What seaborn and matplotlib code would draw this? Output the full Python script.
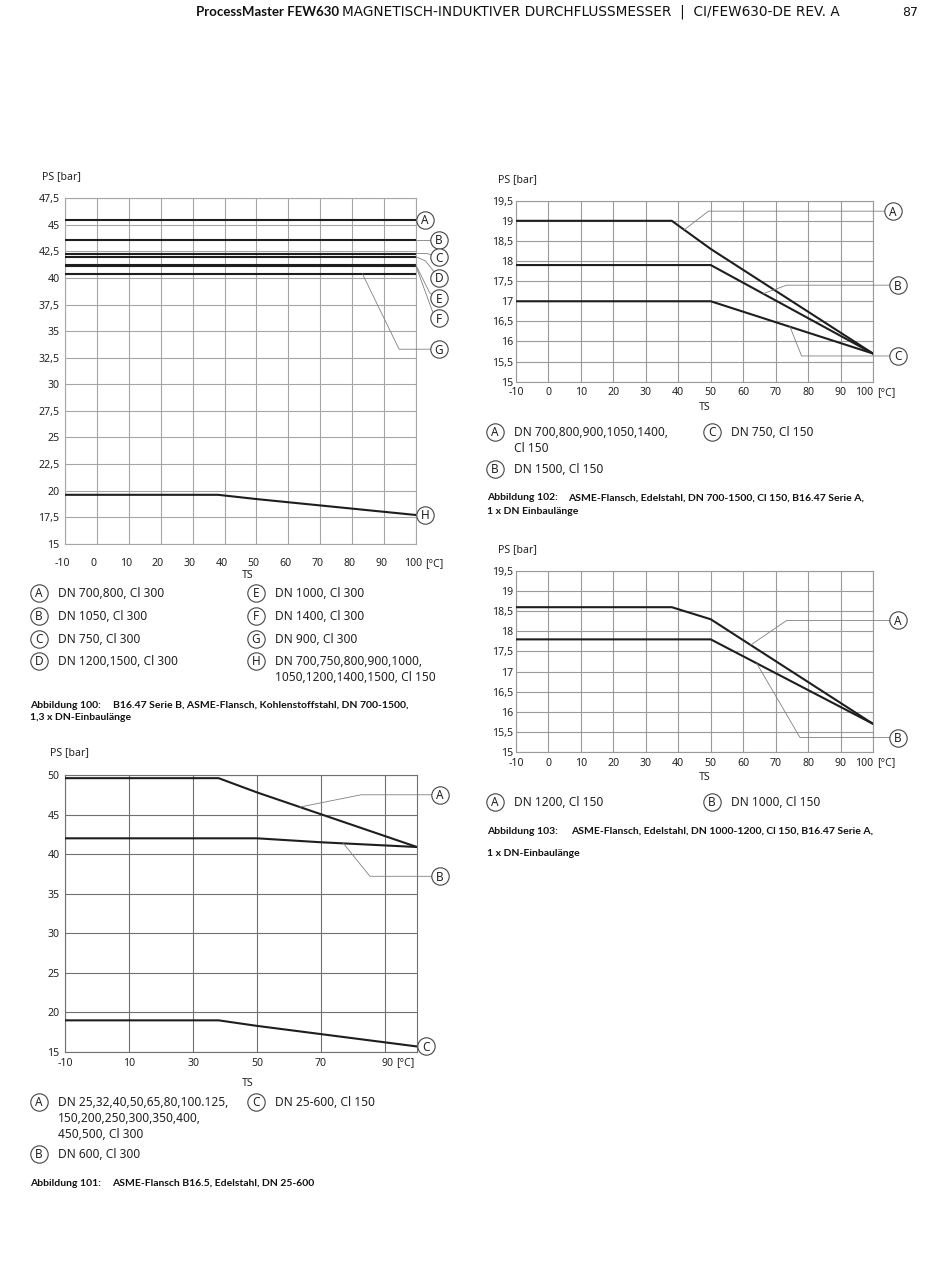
import numpy as np
import pandas as pd
import matplotlib.pyplot as plt
import matplotlib.transforms as mtrans
import seaborn as sns

W, H = 950, 1275
LINE = "#1e1e1e"
TXT = "#222222"
LEAD = "#808080"

# ---- Abbildung 100 (Kohlenstoffstahl, B16.47 Serie B)
ts_flat_100 = [-10, 100]
tags_flat_100 = ["A", "B", "C", "D", "E", "F", "G"]
ps_flat_100 = [45.5, 43.6, 42.3, 42.0, 41.2, 41.1, 40.4]
ts_h_100 = [-10, 38, 50, 100]
ps_h_100 = [19.6, 19.6, 19.2, 17.7]

# ---- Abbildung 101 (B16.5, Edelstahl)
ts_a_101 = [-10, 38, 50, 100]
ps_a_101 = [49.6, 49.6, 47.8, 40.9]
ts_b_101 = [-10, 50, 70, 100]
ps_b_101 = [42.0, 42.0, 41.5, 40.9]
ts_c_101 = [-10, 38, 50, 100]
ps_c_101 = [19.0, 19.0, 18.3, 15.7]

# ---- Abbildung 102 (Edelstahl, DN 700-1500)
ts_a_102 = [-10, 38, 50, 100]
ps_a_102 = [19.0, 19.0, 18.3, 15.7]
ts_b_102 = [-10, 50, 100]
ps_b_102 = [17.9, 17.9, 15.7]
ts_c_102 = [-10, 50, 100]
ps_c_102 = [17.0, 17.0, 15.7]

# ---- Abbildung 103 (Edelstahl, DN 1000-1200)
ts_a_103 = [-10, 38, 50, 100]
ps_a_103 = [18.6, 18.6, 18.3, 15.7]
ts_b_103 = [-10, 50, 100]
ps_b_103 = [17.8, 17.8, 15.7]

# ticks
xticks_full = [-10, 0, 10, 20, 30, 40, 50, 60, 70, 80, 90, 100]
xticks_101 = [-10, 10, 30, 50, 70, 90]
yticks_100 = [15, 17.5, 20, 22.5, 25, 27.5, 30, 32.5, 35, 37.5, 40, 42.5, 45, 47.5]
yticks_101 = [15, 20, 25, 30, 35, 40, 45, 50]
yticks_small = [15, 15.5, 16, 16.5, 17, 17.5, 18, 18.5, 19, 19.5]

# legends below charts
legend_100 = [("A", "DN 700,800, Cl 300"), ("B", "DN 1050, Cl 300"),
              ("C", "DN 750, Cl 300"), ("D", "DN 1200,1500, Cl 300"),
              ("E", "DN 1000, Cl 300"), ("F", "DN 1400, Cl 300"),
              ("G", "DN 900, Cl 300"),
              ("H", "DN 700,750,800,900,1000,\n1050,1200,1400,1500, Cl 150")]
legend_101 = [("A", "DN 25,32,40,50,65,80,100.125,\n150,200,250,300,350,400,\n450,500, Cl 300"),
              ("B", "DN 600, Cl 300"), ("C", "DN 25-600, Cl 150")]
legend_102 = [("A", "DN 700,800,900,1050,1400,\nCl 150"), ("B", "DN 1500, Cl 150"),
              ("C", "DN 750, Cl 150")]
legend_103 = [("A", "DN 1200, Cl 150"), ("B", "DN 1000, Cl 150")]

sns.set_theme(style="whitegrid")
plt.rcParams["font.family"] = ["Noto Sans", "DejaVu Sans"]

TICK_FS = 7.6
LEG_FS = 8.6
TAG_FS = 8.5

fig = plt.figure(figsize=(W / 100, H / 100), dpi=100)
fig.patch.set_facecolor("white")

page = fig.add_axes([0, 0, 1, 1], zorder=0)
page.set_xlim(0, W)
page.set_ylim(H, 0)
page.axis("off")
page.patch.set_alpha(0)


def add_ax(l, t, r, b):
    return fig.add_axes([l / W, 1 - b / H, (r - l) / W, (b - t) / H], zorder=2)


def fmt(v):
    return ("%g" % v).replace(".", ",")


def shift(artist, dx_px):
    artist.set_transform(artist.get_transform()
                         + mtrans.ScaledTranslation(dx_px / 100, 0, fig.dpi_scale_trans))


def style_ax(ax, ylim, xticks, yticks, grid, xpad, ypad):
    ax.set_xlim(-10, 100)
    ax.set_ylim(*ylim)
    ax.set_xticks(xticks)
    ax.set_xticklabels([fmt(v) for v in xticks])
    ax.set_yticks(yticks)
    ax.set_yticklabels([fmt(v) for v in yticks])
    ax.grid(True, color=grid, lw=0.8)
    ax.set_facecolor("white")
    for s in ax.spines.values():
        s.set_color(grid)
        s.set_linewidth(0.8)
    ax.tick_params(axis="both", length=0, labelsize=TICK_FS, colors=TXT)
    ax.tick_params(axis="x", pad=xpad)
    ax.tick_params(axis="y", pad=ypad)
    ax.set_xlabel("")
    ax.set_ylabel("")


def unit(ax, dx_px, xpad):
    # "[°C]" behind the last x tick label, on the same line
    ax.annotate("[°C]", xy=(1, 0), xycoords="axes fraction",
                xytext=(dx_px * 0.72, -xpad), textcoords="offset points",
                ha="left", va="top", fontsize=TICK_FS, color=TXT, annotation_clip=False)


def series(ax, ts, ps):
    sns.lineplot(x=ts, y=ps, ax=ax, color=LINE, linewidth=1.5, errorbar=None, zorder=3)


def tag(ax, x, y, letter):
    ax.plot([x], [y], marker="o", ms=12.5, mfc="white", mec="#444", mew=0.8,
            clip_on=False, zorder=8)
    ax.annotate(letter, xy=(x, y), xytext=(0, -0.7), textcoords="offset points",
                ha="center", va="center", fontsize=TAG_FS, color=TXT,
                annotation_clip=False, zorder=9)


def leader(ax, xs, ys):
    ax.plot(xs, ys, color=LEAD, lw=0.6, clip_on=False, zorder=5)


def page_tag(x, y, letter):
    page.plot([x], [y], marker="o", ms=12.5, mfc="white", mec="#444", mew=0.8, zorder=3)
    page.text(x, y + 0.9, letter, ha="center", va="center", fontsize=TAG_FS, color=TXT, zorder=4)


def page_legend(entries, spots):
    for (letter, text), (x, y) in zip(entries, spots):
        page_tag(x, y, letter)
        for i, line in enumerate(text.split("\n")):
            page.text(x + 19, y + 4.3 + i * 15.7, line, ha="left", va="baseline",
                      fontsize=LEG_FS, color=TXT)


def page_label(x, y, s, ha="left"):
    page.text(x, y, s, ha=ha, va="center", fontsize=TICK_FS, color=TXT)


# ================= Abbildung 100
ax = add_ax(65, 198.3, 416, 543.7)
for val in ps_flat_100:
    series(ax, ts_flat_100, [val, val])
series(ax, ts_h_100, ps_h_100)
style_ax(ax, (15, 47.5), xticks_full, yticks_100, "#a6a6a6", 10.5, 4)
for lab in ax.get_xticklabels():
    shift(lab, -3)
unit(ax, 9, 10.5)
leader(ax, [100, 107.2], [43.6, 43.6])
leader(ax, [100, 103.5, 107.2], [42.3, 42.3, 41.95])
leader(ax, [100, 103.0, 107.2], [42.0, 41.6, 40.0])
leader(ax, [100, 104.3, 107.2], [41.2, 38.6, 38.1])
leader(ax, [100, 105.6, 107.2], [41.1, 36.5, 36.2])
leader(ax, [83.2, 94.7, 107.2], [40.4, 33.3, 33.3])
tag(ax, 102.8, 45.5, "A")
for letter, y in zip(["B", "C", "D", "E", "F", "G"], [43.6, 41.95, 40.0, 38.1, 36.2, 33.3]):
    tag(ax, 107.2, y, letter)
tag(ax, 102.8, 17.7, "H")
page_label(42, 177, "PS [bar]")
page_label(248, 576, "TS", ha="center")
page_legend(legend_100, [(39, 593), (39, 616), (39, 639), (39, 661),
                         (256, 593), (256, 616), (256, 639), (256, 661)])

# ================= Abbildung 102
ax = add_ax(516, 200.7, 873, 381.7)
series(ax, ts_a_102, ps_a_102)
series(ax, ts_b_102, ps_b_102)
series(ax, ts_c_102, ps_c_102)
style_ax(ax, (15, 19.5), xticks_full, yticks_small, "#9a9a9a", 4, 2)
shift(ax.get_xticklabels()[-1], -9)
unit(ax, 4, 4)
leader(ax, [41.9, 49.3, 106.2], [18.78, 19.24, 19.24])
leader(ax, [66.2, 73.4, 107.7], [17.19, 17.4, 17.4])
leader(ax, [74.4, 78.0, 107.7], [16.37, 15.64, 15.64])
tag(ax, 106.2, 19.24, "A")
tag(ax, 107.7, 17.4, "B")
tag(ax, 107.7, 15.64, "C")
page_label(498, 180, "PS [bar]")
page_label(705, 407, "TS", ha="center")
page_legend(legend_102, [(495, 432), (495, 469), (712, 432)])

# ================= Abbildung 103
ax = add_ax(516, 571, 873, 752)
series(ax, ts_a_103, ps_a_103)
series(ax, ts_b_103, ps_b_103)
style_ax(ax, (15, 19.5), xticks_full, yticks_small, "#9a9a9a", 4, 2)
shift(ax.get_xticklabels()[-1], -9)
unit(ax, 4, 4)
leader(ax, [62.3, 73.4, 107.7], [17.66, 18.27, 18.27])
leader(ax, [64.2, 77.5, 107.7], [17.2, 15.36, 15.36])
tag(ax, 107.7, 18.27, "A")
tag(ax, 107.7, 15.36, "B")
page_label(498, 550, "PS [bar]")
page_label(705, 777, "TS", ha="center")
page_legend(legend_103, [(495, 802), (712, 802)])

# ================= Abbildung 101
ax = add_ax(65, 775, 417, 1052)
series(ax, ts_a_101, ps_a_101)
series(ax, ts_b_101, ps_b_101)
series(ax, ts_c_101, ps_c_101)
style_ax(ax, (15, 50), xticks_101, yticks_101, "#707070", 4, 4)
shift(ax.get_xticklabels()[-1], 3)
unit(ax, -21, 4)
leader(ax, [63.4, 82.5, 107.2], [45.95, 47.5, 47.5])
leader(ax, [77.0, 85.3, 107.2], [41.36, 37.2, 37.2])
tag(ax, 107.2, 47.5, "A")
tag(ax, 107.2, 37.2, "B")
tag(ax, 102.8, 15.7, "C")
page_label(50, 753, "PS [bar]")
page_label(248, 1084, "TS", ha="center")
page_legend(legend_101, [(39, 1102), (39, 1154), (256, 1102)])

# ================= captions
cap = dict(ha="left", va="center", fontsize=7.5, fontweight="bold", color="#111",
           family=["Lato", "DejaVu Sans"])
page.text(30, 705, "Abbildung 100:", **cap)
page.text(113, 705, "B16.47 Serie B, ASME-Flansch, Kohlenstoffstahl, DN 700-1500,", **cap)
page.text(30, 717, "1,3 x DN-Einbaulänge", **cap)
page.text(487, 498, "Abbildung 102:", **cap)
page.text(568, 498, "ASME-Flansch, Edelstahl, DN 700-1500, Cl 150, B16.47 Serie A,", **cap)
page.text(487, 511, "1 x DN Einbaulänge", **cap)
page.text(487, 831, "Abbildung 103:", **cap)
page.text(571, 831, "ASME-Flansch, Edelstahl, DN 1000-1200, Cl 150, B16.47 Serie A,", **cap)
page.text(487, 853, "1 x DN-Einbaulänge", **cap)
page.text(30, 1183, "Abbildung 101:", **cap)
page.text(112, 1183, "ASME-Flansch B16.5, Edelstahl, DN 25-600", **cap)

# ================= header
head = page.text(196, 12, "ProcessMaster FEW630", ha="left", va="center", fontsize=9.5,
                 fontweight="bold", color="#111", family=["Lato", "DejaVu Sans"])
fig.canvas.draw()
bb = head.get_window_extent(renderer=fig.canvas.get_renderer())
page.text(bb.x1 + 3, 12, "MAGNETISCH-INDUKTIVER DURCHFLUSSMESSER  |  CI/FEW630-DE REV. A",
          ha="left", va="center", fontsize=9.8, color="#111",
          family=["DejaVu Sans"])
page.text(918, 12, "87", ha="right", va="center", fontsize=9, color="#111",
          family=["DejaVu Sans"])

fig.savefig("out.png", dpi=100, facecolor="white")
